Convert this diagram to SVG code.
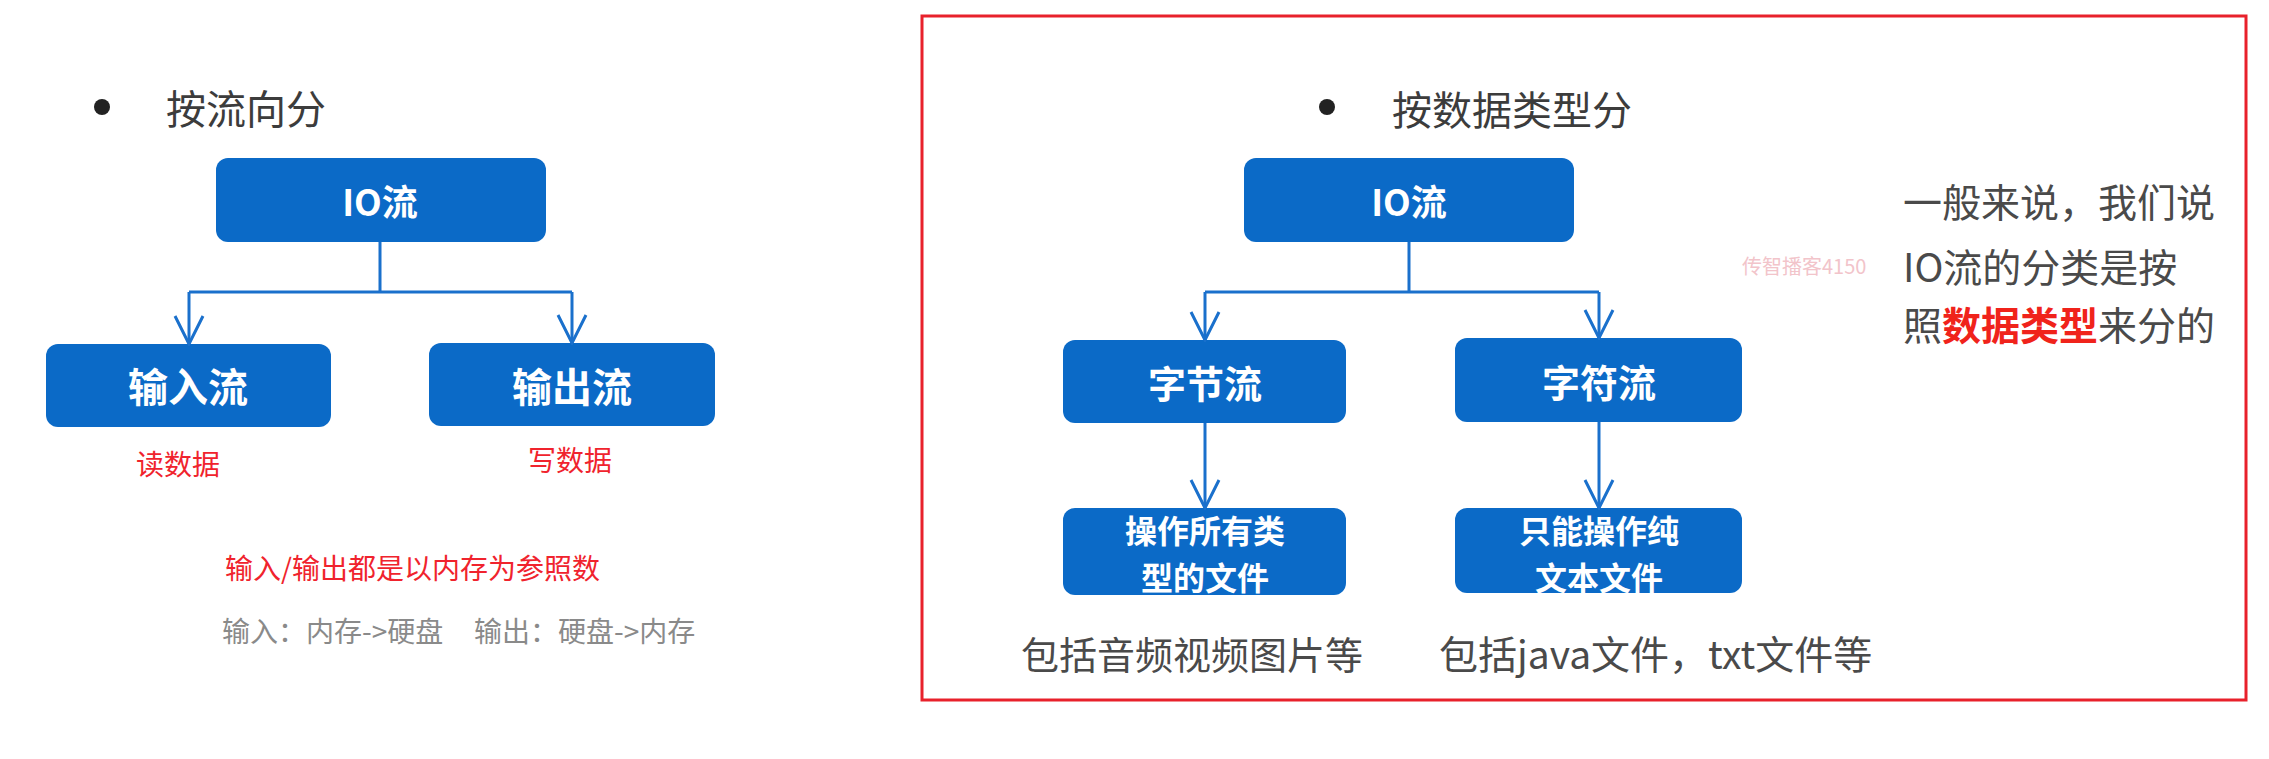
<svg xmlns="http://www.w3.org/2000/svg" width="2269" height="759" viewBox="0 0 2269 759">
<style>
.box{fill:#0b6ac7;}
.bt{fill:#ffffff;font-family:"Noto Sans CJK SC","Noto Sans",sans-serif;font-weight:bold;text-anchor:middle;dominant-baseline:central;}
.title{fill:#3c3c3c;font-family:"Noto Sans CJK SC","Noto Sans",sans-serif;font-size:40px;dominant-baseline:central;}
.red{fill:#f0232d;font-family:"Noto Sans CJK SC","Noto Sans",sans-serif;dominant-baseline:central;}
.gray{fill:#8a8a8a;font-family:"Noto Sans CJK SC","Noto Sans",sans-serif;dominant-baseline:central;}
.dark{fill:#4a4a4a;font-family:"Noto Sans CJK SC","Noto Sans",sans-serif;dominant-baseline:central;}
.conn{stroke:#1a70cc;stroke-width:3;fill:none;}
</style>
<defs>
<marker id="arr" viewBox="-2 -16 32 32" refX="28" refY="0" markerWidth="32" markerHeight="32" markerUnits="userSpaceOnUse" orient="auto">
<path d="M0,-14 L28,0 L0,14" fill="none" stroke="#1a70cc" stroke-width="3"/>
</marker>
</defs>
<rect width="2269" height="759" fill="#ffffff"/>

<!-- Left panel -->
<g id="left-title">
<circle cx="102" cy="107" r="8" fill="#222"/>
<text class="title" x="166" y="107">按流向分</text>
</g>
<g id="l-io">
<rect class="box" x="216" y="158" width="330" height="84" rx="12"/>
<text class="bt" x="380" y="200" font-size="36">IO流</text>
</g>
<g id="l-in">
<rect class="box" x="46" y="344" width="285" height="83" rx="12"/>
<text class="bt" x="188" y="385" font-size="40">输入流</text>
</g>
<g id="l-out">
<rect class="box" x="429" y="343" width="286" height="83" rx="12"/>
<text class="bt" x="572" y="385" font-size="40">输出流</text>
</g>
<g id="l-notes">
<text class="red" x="178" y="463" font-size="28" text-anchor="middle">读数据</text>
<text class="red" x="570" y="459" font-size="28" text-anchor="middle">写数据</text>
<text class="red" x="225" y="567" font-size="28">输入/输出都是以内存为参照数</text>
<text class="gray" y="630" font-size="28"><tspan x="222">输入：内存-&gt;硬盘</tspan><tspan x="474">输出：硬盘-&gt;内存</tspan></text>
</g>

<!-- Right panel -->
<rect x="922" y="16" width="1324" height="684" fill="none" stroke="#e8212b" stroke-width="3"/>
<g id="right-title">
<circle cx="1327" cy="107" r="8" fill="#222"/>
<text class="title" x="1392" y="108">按数据类型分</text>
</g>
<g id="r-io">
<rect class="box" x="1244" y="158" width="330" height="84" rx="12"/>
<text class="bt" x="1409" y="200" font-size="36">IO流</text>
</g>
<g id="r-byte">
<rect class="box" x="1063" y="340" width="283" height="83" rx="12"/>
<text class="bt" x="1205" y="381" font-size="38">字节流</text>
</g>
<g id="r-char">
<rect class="box" x="1455" y="338" width="287" height="84" rx="12"/>
<text class="bt" x="1599" y="380" font-size="38">字符流</text>
</g>
<g id="r-byte-desc">
<rect class="box" x="1063" y="508" width="283" height="87" rx="12"/>
<text class="bt" font-size="32"><tspan x="1205" y="529">操作所有类</tspan><tspan x="1205" y="576">型的文件</tspan></text>
</g>
<g id="r-char-desc">
<rect class="box" x="1455" y="508" width="287" height="85" rx="12"/>
<text class="bt" font-size="32"><tspan x="1599" y="529">只能操作纯</tspan><tspan x="1599" y="576">文本文件</tspan></text>
</g>
<g id="r-notes">
<text class="dark" x="1021" y="652" font-size="38">包括音频视频图片等</text>
<text class="dark" x="1439" y="652" font-size="39">包括java文件，txt文件等</text>
<text class="dark" x="1903" y="200" font-size="39">一般来说，我们说</text>
<text fill="#f2c4ca" font-family="'Noto Sans CJK SC','Noto Sans',sans-serif" font-size="20" x="1742" y="265" dominant-baseline="central">传智播客4150</text>
<text class="dark" x="1903" y="265" font-size="39">IO流的分类是按</text>
<text class="dark" x="1903" y="323" font-size="39">照<tspan fill="#f0231b" font-weight="bold">数据类型</tspan>来分的</text>
</g>

<g id="connectors">
<path class="conn" d="M380,242 V292 M189,292 H572 M1409,242 V292 M1205,292 H1599"/>
<path class="conn" d="M189,292 V344" marker-end="url(#arr)"/>
<path class="conn" d="M572,292 V343" marker-end="url(#arr)"/>
<path class="conn" d="M1205,292 V340" marker-end="url(#arr)"/>
<path class="conn" d="M1599,292 V338" marker-end="url(#arr)"/>
<path class="conn" d="M1205,423 V508" marker-end="url(#arr)"/>
<path class="conn" d="M1599,422 V508" marker-end="url(#arr)"/>
</g>
</svg>
